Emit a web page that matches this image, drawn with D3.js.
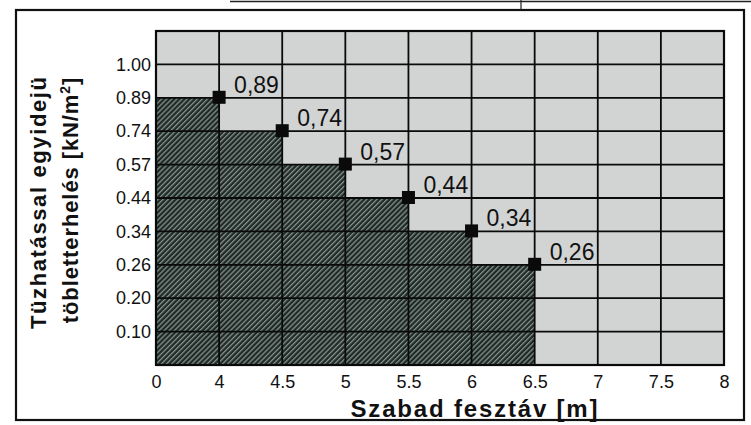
<!DOCTYPE html>
<html><head><meta charset="utf-8">
<script src="https://cdn.jsdelivr.net/npm/d3@7"></script>
<style>body{margin:0;background:#fff}svg{display:block}</style>
</head><body>
<svg id="c" width="751" height="425"></svg>
<script>
// ---- data ----
const xTicks = [0, 4, 4.5, 5, 5.5, 6, 6.5, 7, 7.5, 8];
const xTickLabels = ["0", "4", "4.5", "5", "5.5", "6", "6.5", "7", "7.5", "8"];
const yTicks = [0.10, 0.20, 0.26, 0.34, 0.44, 0.57, 0.74, 0.89, 1.00];
const yTickLabels = ["0.10", "0.20", "0.26", "0.34", "0.44", "0.57", "0.74", "0.89", "1.00"];
const spans = [4, 4.5, 5, 5.5, 6, 6.5];
const loads = [0.89, 0.74, 0.57, 0.44, 0.34, 0.26];
const loadLabels = ["0,89", "0,74", "0,57", "0,44", "0,34", "0,26"];
const xTitle = "Szabad fesztáv [m]";
const yTitle1 = "Tüzhatással egyidejü";
const yTitle2 = "töbletterhelés [kN/m";

const svg = d3.select("#c");
const L = 156, R = 724, T = 31, B = 365;
const font = "Liberation Sans, Arial, sans-serif";

// evenly spaced piecewise scales
const xScale = d3.scaleLinear()
  .domain(xTicks)
  .range(xTicks.map((d, i) => L + i * (R - L) / (xTicks.length - 1)));
const yDom = [0].concat(yTicks).concat([1.11]);
const yScale = d3.scaleLinear()
  .domain(yDom)
  .range(yDom.map((d, i) => B - i * (B - T) / (yDom.length - 1)));

// outer frame
svg.append("rect").attr("x", 16).attr("y", 10).attr("width", 728).attr("height", 410)
  .attr("fill", "none").attr("stroke", "#111").attr("stroke-width", 2.2);
svg.append("line").attr("x1", 230).attr("x2", 751).attr("y1", 1.5).attr("y2", 1.5)
  .attr("stroke", "#222").attr("stroke-width", 1.5);
svg.append("line").attr("x1", 521).attr("x2", 521).attr("y1", 0).attr("y2", 10)
  .attr("stroke", "#222").attr("stroke-width", 1.2);

// pattern
const defs = svg.append("defs");
const pat = defs.append("pattern").attr("id", "hatch").attr("patternUnits", "userSpaceOnUse")
  .attr("width", 3.6).attr("height", 3.6).attr("patternTransform", "rotate(45)");
pat.append("rect").attr("width", 3.6).attr("height", 3.6).attr("fill", "#1d2925");
pat.append("rect").attr("width", 1.3).attr("height", 3.6).attr("fill", "#87918d");

// plot background
svg.append("rect").attr("x", L).attr("y", T).attr("width", R - L).attr("height", B - T)
  .attr("fill", "#d2d4d4");

// step area
const pts = [{x: 0, y: loads[0]}].concat(spans.map((s, i) => ({x: s, y: loads[i]})));
const area = d3.area().curve(d3.curveStepBefore)
  .x(d => xScale(d.x)).y0(B).y1(d => yScale(d.y));
svg.append("path").datum(pts).attr("d", area).attr("fill", "url(#hatch)");

// grid
const g = svg.append("g").attr("stroke", "#0a0a0a").attr("stroke-width", 1.8);
xTicks.forEach(v => g.append("line").attr("x1", xScale(v)).attr("x2", xScale(v))
  .attr("y1", T).attr("y2", B));
yTicks.forEach(v => g.append("line").attr("x1", L).attr("x2", R)
  .attr("y1", yScale(v)).attr("y2", yScale(v)));
svg.append("rect").attr("x", L).attr("y", T).attr("width", R - L).attr("height", B - T)
  .attr("fill", "none").attr("stroke", "#0a0a0a").attr("stroke-width", 2.2);

// axes labels via d3 axes
const xAxis = d3.axisBottom(xScale).tickValues(xTicks)
  .tickFormat((d, i) => xTickLabels[i]).tickSize(0).tickPadding(10);
svg.append("g").attr("transform", `translate(0,${B})`).call(xAxis)
  .call(s => s.select(".domain").remove())
  .selectAll("text").attr("font-family", font).attr("font-size", 18).attr("fill", "#111");
const yAxis = d3.axisLeft(yScale).tickValues(yTicks)
  .tickFormat((d, i) => yTickLabels[i]).tickSize(0).tickPadding(5);
svg.append("g").attr("transform", `translate(${L},0)`).call(yAxis)
  .call(s => s.select(".domain").remove())
  .selectAll("text").attr("font-family", font).attr("font-size", 18).attr("fill", "#111");

// markers & labels
spans.forEach((s, i) => {
  const cx = xScale(s), cy = yScale(loads[i]);
  svg.append("rect").attr("x", cx - 6.5).attr("y", cy - 7).attr("width", 13).attr("height", 13)
    .attr("fill", "#0a0a0a");
  svg.append("text").attr("x", cx + 15).attr("y", cy - 5)
    .attr("font-family", font).attr("font-size", 23).attr("fill", "#111").text(loadLabels[i]);
});

// titles
svg.append("text").attr("x", 474).attr("y", 417).attr("text-anchor", "middle")
  .attr("font-family", font).attr("font-weight", "bold").attr("font-size", 24)
  .attr("textLength", 247).attr("lengthAdjust", "spacing")
  .attr("fill", "#111").text(xTitle);
svg.append("text").attr("transform", `translate(46,203) rotate(-90)`).attr("text-anchor", "middle")
  .attr("font-family", font).attr("font-weight", "bold").attr("font-size", 22)
  .attr("textLength", 252).attr("lengthAdjust", "spacing")
  .attr("fill", "#111").text(yTitle1);
const t2 = svg.append("text").attr("transform", `translate(78,200) rotate(-90)`).attr("text-anchor", "middle")
  .attr("font-family", font).attr("font-weight", "bold").attr("font-size", 22)
  .attr("letter-spacing", 0.9).attr("fill", "#111");
t2.append("tspan").text(yTitle2);
t2.append("tspan").attr("dy", -8).attr("font-size", 14).text("2");
t2.append("tspan").attr("dy", 8).text("]");
</script>
</body></html>
